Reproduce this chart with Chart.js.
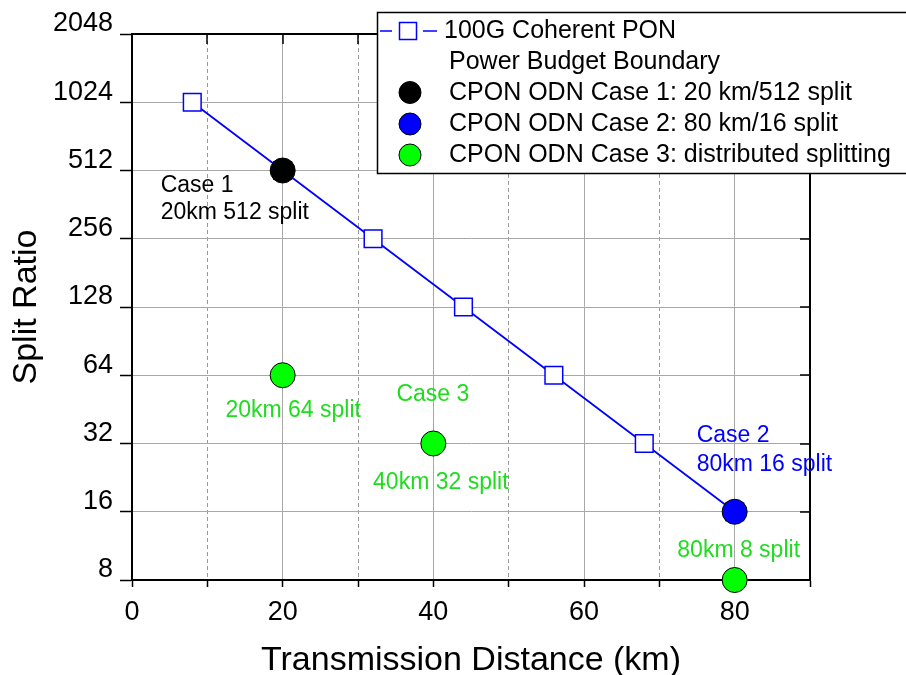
<!DOCTYPE html>
<html>
<head>
<meta charset="utf-8">
<script src="https://cdn.jsdelivr.net/npm/chart.js@4/dist/chart.umd.min.js"></script>
<style>
html, body { margin: 0; padding: 0; background: #fff; }
#wrap { width: 906px; height: 675px; }
</style>
</head>
<body>
<div id="wrap"><canvas id="chart" width="906" height="675"></canvas></div>
<script>
// data
const boundaryKm    = [8, 20, 32, 44, 56, 68, 80];
const boundarySplit = [1024, 512, 256, 128, 64, 32, 16];
const case1Km = [20];
const case1Split = [512];
const case2Km = [80];
const case2Split = [16];
const case3Km = [20, 40, 80];
const case3Split = [64, 32, 8];

const xTicks  = [0, 10, 20, 30, 40, 50, 60, 70, 80, 90];
const xLabels = ['0', '', '20', '', '40', '', '60', '', '80', ''];
const yTicks  = [8, 16, 32, 64, 128, 256, 512, 1024, 2048];

const legendLines = [
	'100G Coherent PON',
	'Power Budget Boundary',
	'CPON ODN Case 1: 20 km/512 split',
	'CPON ODN Case 2: 80 km/16 split',
	'CPON ODN Case 3: distributed splitting'
];

const FONT = '"Liberation Sans", Arial, sans-serif';
const BLUE = '#0000ff';
const GREEN = '#00ff00';
const GREEN_TXT = '#1fdc1f';

// text next to the points: anchor in data units, offset in px
const notes = [
	{ t: 'Case 1',         x: 20, y: 512, dx: -122, dy: 21.5, align: 'left',   c: '#000' },
	{ t: '20km 512 split', x: 20, y: 512, dx: -122, dy: 48.5, align: 'left',   c: '#000' },
	{ t: '20km 64 split',  x: 20, y: 64,  dx: 10.5, dy: 41.5, align: 'center', c: GREEN_TXT },
	{ t: 'Case 3',         x: 40, y: 32,  dx: -0.5, dy: -43,  align: 'center', c: GREEN_TXT },
	{ t: '40km 32 split',  x: 40, y: 32,  dx: 7.5,  dy: 45,   align: 'center', c: GREEN_TXT },
	{ t: 'Case 2',         x: 80, y: 16,  dx: -38,  dy: -70,  align: 'left',   c: BLUE },
	{ t: '80km 16 split',  x: 80, y: 16,  dx: -38,  dy: -41,  align: 'left',   c: BLUE },
	{ t: '80km 8 split',   x: 80, y: 8,   dx: 4,    dy: -23,  align: 'center', c: GREEN_TXT }
];

function pts(xs, ys) {
	return xs.map((x, i) => ({ x: x, y: ys[i] }));
}

const framePlugin = {
	id: 'frame',
	beforeDatasetsDraw(chart) {
		const ctx = chart.ctx;
		const a = chart.chartArea;
		const xs = chart.scales.x, ys = chart.scales.y;
		ctx.save();
		ctx.strokeStyle = '#000';
		ctx.lineWidth = 2;
		ctx.beginPath();
		ctx.moveTo(a.left, a.top); ctx.lineTo(a.right, a.top); ctx.lineTo(a.right, a.bottom);
		ctx.stroke();
		// Ticks nach innen, oben und rechts
		ctx.lineWidth = 1.5;
		ctx.beginPath();
		xTicks.forEach(v => {
			const px = Math.round(xs.getPixelForValue(v));
			ctx.moveTo(px, a.top); ctx.lineTo(px, a.top + 10);
		});
		yTicks.forEach(v => {
			const py = Math.round(ys.getPixelForValue(v));
			ctx.moveTo(a.right, py); ctx.lineTo(a.right - 10, py);
		});
		ctx.stroke();
		ctx.restore();
	},
	afterDatasetsDraw(chart) {
		const ctx = chart.ctx;
		const xs = chart.scales.x, ys = chart.scales.y;
		ctx.save();
		ctx.font = '23px ' + FONT;
		ctx.textBaseline = 'alphabetic';
		notes.forEach(n => {
			ctx.fillStyle = n.c;
			ctx.textAlign = n.align;
			ctx.fillText(n.t, xs.getPixelForValue(n.x) + n.dx, ys.getPixelForValue(n.y) + n.dy);
		});

		// Legende
		ctx.fillStyle = '#fff';
		ctx.fillRect(377, 12, 560, 161);
		ctx.strokeStyle = '#000';
		ctx.lineWidth = 1.5;
		ctx.strokeRect(377.5, 12.5, 560, 161);

		ctx.strokeStyle = BLUE;
		ctx.lineWidth = 1.5;
		ctx.beginPath();
		ctx.moveTo(380, 31); ctx.lineTo(392, 31);
		ctx.moveTo(423, 31); ctx.lineTo(437, 31);
		ctx.stroke();
		ctx.fillStyle = '#fff';
		ctx.fillRect(399.5, 22.5, 17, 17);
		ctx.strokeRect(399.5, 22.5, 17, 17);

		const circ = [['#000', 92.5], [BLUE, 124], [GREEN, 155]];
		circ.forEach(c => {
			ctx.beginPath();
			ctx.arc(410, c[1], 11, 0, Math.PI * 2);
			ctx.fillStyle = c[0];
			ctx.fill();
			ctx.strokeStyle = '#000';
			ctx.lineWidth = 1;
			ctx.stroke();
		});

		ctx.fillStyle = '#000';
		ctx.font = '25px ' + FONT;
		ctx.textAlign = 'left';
		ctx.textBaseline = 'middle';
		const rowY = [31, 62.5, 93.5, 124.5, 155];
		legendLines.forEach((s, i) => {
			ctx.fillText(s, i === 0 ? 444 : 449, rowY[i]);
		});
		ctx.restore();
	}
};

const chart = new Chart(document.getElementById('chart').getContext('2d'), {
	type: 'line',
	data: {
		datasets: [
			{ label: 'Case 1', data: pts(case1Km, case1Split), showLine: false, order: 0, clip: false,
			  pointRadius: 12.5, pointBackgroundColor: '#000', pointBorderColor: '#000', pointBorderWidth: 1 },
			{ label: 'Case 2', data: pts(case2Km, case2Split), showLine: false, order: 0, clip: false,
			  pointRadius: 12.5, pointBackgroundColor: BLUE, pointBorderColor: '#000', pointBorderWidth: 1 },
			{ label: 'Case 3', data: pts(case3Km, case3Split), showLine: false, order: 0, clip: false,
			  pointRadius: 12.5, pointBackgroundColor: GREEN, pointBorderColor: '#000', pointBorderWidth: 1 },
			{ label: '100G Coherent PON', data: pts(boundaryKm, boundarySplit), order: 1, clip: false,
			  borderColor: BLUE, borderWidth: 1.8, pointStyle: 'rect', pointRadius: 12.5,
			  pointBackgroundColor: '#fff', pointBorderColor: BLUE, pointBorderWidth: 1.5 }
		]
	},
	options: {
		responsive: false,
		animation: false,
		devicePixelRatio: 1,
		layout: { padding: { top: 34, right: 96, left: 0, bottom: 0 } },
		plugins: { legend: { display: false }, tooltip: { enabled: false } },
		scales: {
			x: {
				type: 'linear',
				min: 0, max: 90,
				afterFit(s) { s.height = 95; },
				afterBuildTicks(s) { s.ticks = xTicks.map(v => ({ value: v })); },
				ticks: {
					autoSkip: false, maxRotation: 0, padding: 9,
					color: '#000', font: { family: FONT, size: 27 },
					callback: (v, i) => xLabels[i]
				},
				grid: {
					color: ctx => (ctx.index === 0 || ctx.index === xTicks.length - 1) ? 'rgba(0,0,0,0)' : (ctx.index % 2 ? '#9a9a9a' : '#a8a8a8'),
					lineWidth: 1,
					tickLength: 7, tickColor: '#000', tickWidth: 1.5
				},
				border: {
					display: true, color: '#000', width: 2,
					dash: ctx => (ctx.index % 2 ? [4, 3] : [])
				},
				title: {
					display: true, text: 'Transmission Distance (km)', color: '#000',
					font: { family: FONT, size: 34, lineHeight: 1 }, padding: { top: 0, bottom: -3 }
				}
			},
			y: {
				type: 'logarithmic',
				min: 8, max: 2048,
				afterFit(s) { s.width = 132; },
				afterBuildTicks(s) { s.ticks = yTicks.map(v => ({ value: v })); },
				ticks: {
					autoSkip: false, padding: 7, labelOffset: -10,
					color: '#000', font: { family: FONT, size: 27 },
					callback: v => String(v)
				},
				grid: {
					color: ctx => (ctx.index === 0 || ctx.index === yTicks.length - 1) ? 'rgba(0,0,0,0)' : '#a8a8a8',
					lineWidth: 1,
					tickLength: 12, tickColor: '#000', tickWidth: 1.5
				},
				border: { display: true, color: '#000', width: 2 },
				title: {
					display: true, text: 'Split Ratio', color: '#000',
					font: { family: FONT, size: 34, lineHeight: 1 }, padding: { top: 10, bottom: 0 }
				}
			}
		}
	},
	plugins: [framePlugin]
});
</script>
</body>
</html>
